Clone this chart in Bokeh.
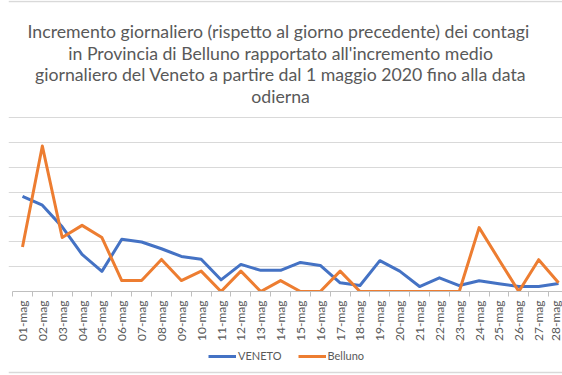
import math
from bokeh.plotting import figure
from bokeh.layouts import column
from bokeh.models import Range1d, FixedTicker, Legend, LegendItem, Span
from bokeh.core.properties import value
from bokeh.embed import file_html
from bokeh.resources import INLINE

days = ["01-mag", "02-mag", "03-mag", "04-mag", "05-mag", "06-mag", "07-mag",
        "08-mag", "09-mag", "10-mag", "11-mag", "12-mag", "13-mag", "14-mag",
        "15-mag", "16-mag", "17-mag", "18-mag", "19-mag", "20-mag", "21-mag",
        "22-mag", "23-mag", "24-mag", "25-mag", "26-mag", "27-mag", "28-mag"]

veneto = [3.83, 3.47, 2.60, 1.49, 0.81, 2.10, 1.99, 1.72, 1.41, 1.30,
          0.47, 1.09, 0.85, 0.85, 1.17, 1.05, 0.35, 0.24, 1.24, 0.82,
          0.20, 0.55, 0.24, 0.43, 0.31, 0.20, 0.20, 0.32]

belluno = [1.79, 5.85, 2.17, 2.66, 2.17, 0.44, 0.44, 1.29, 0.44, 0.82,
           0.00, 0.82, 0.00, 0.44, 0.00, 0.00, 0.82, 0.00, 0.00, 0.00,
           0.00, 0.00, 0.00, 2.57, 1.28, 0.00, 1.28, 0.35]

series_names = ["VENETO", "Belluno"]
series_colors = ["#4472C4", "#ED7D31"]

grid_levels = [0, 1, 2, 3, 4, 5, 6, 7]

title_lines = [
    "Incremento giornaliero  (rispetto al giorno precedente) dei contagi",
    "in Provincia di Belluno rapportato all'incremento medio",
    "giornaliero del Veneto a partire dal 1 maggio 2020 fino alla data",
    "odierna",
]

FONT = "Lato"
GREY = "#595959"
BORDER = "#d9d9d9"
UNIT = 24.86          # px per grid step
BASE = 291            # px of the x axis from the top
H1 = 345              # height of the chart part
H2 = 375 - H1         # height of the legend strip

x = list(range(len(days)))

p = figure(width=562, height=H1, output_backend="svg", toolbar_location=None,
           x_range=Range1d(-0.705, 27.2), y_range=Range1d(0, BASE / UNIT),
           min_border_left=8, min_border_right=0, min_border_top=0,
           min_border_bottom=H1 - BASE, y_axis_location=None)
p.outline_line_color = None
p.xgrid.visible = False
p.ygrid.ticker = FixedTicker(ticks=grid_levels)
p.ygrid.grid_line_color = BORDER
p.ygrid.grid_line_width = 1

ax = p.xaxis[0]
ax.ticker = FixedTicker(ticks=x, minor_ticks=[i - 0.5 for i in range(len(days) + 1)])
ax.major_label_overrides = {i: d for i, d in enumerate(days)}
ax.major_label_orientation = math.pi / 2
ax.major_tick_line_color = None
ax.major_tick_out = 5
ax.major_tick_in = 0
ax.minor_tick_line_color = "#bfbfbf"
ax.minor_tick_out = 5
ax.minor_tick_in = 0
ax.axis_line_color = "#bfbfbf"
ax.bounds = (-0.5, 27.5)
ax.major_label_standoff = 4
ax.major_label_text_font = FONT
ax.major_label_text_font_size = "12px"
ax.major_label_text_color = GREY

p.line(x, veneto, line_color=series_colors[0], line_width=3, line_join="round")
p.line(x, belluno, line_color=series_colors[1], line_width=3, line_join="round")

# chart-area border at the top
p.add_layout(Span(location=(BASE - 1) / UNIT, dimension="width",
                  line_color=BORDER, line_width=1.5))

# title, baselines given in px from the top of the picture
title_base_px = [31, 52.7, 74, 96]
p.text(x=[13.0] * 4, y=[(BASE - b) / UNIT for b in title_base_px], text=title_lines,
       text_align="center", text_baseline="alphabetic",
       text_font=value(FONT), text_font_size=value("17.7px"), text_color=GREY)

# legend strip (its lines lie outside the visible range; only the legend shows)
q = figure(width=562, height=H2, output_backend="svg", toolbar_location=None,
           x_range=Range1d(1000, 1001), y_range=Range1d(0, 1),
           min_border_left=0, min_border_right=0, min_border_top=0,
           min_border_bottom=0, x_axis_location=None, y_axis_location=None)
q.outline_line_color = None
q.grid.visible = False
items = []
for name, col, vals in zip(series_names, series_colors, [veneto, belluno]):
    r = q.line(x=x, y=vals, line_color=col, line_width=3)
    items.append(LegendItem(label=name, renderers=[r]))
legend = Legend(items=items, orientation="horizontal", location=(200, 13),
                glyph_width=28, glyph_height=12, label_standoff=2, spacing=16,
                padding=0, margin=0, border_line_color=None,
                background_fill_alpha=0, label_text_font=FONT,
                label_text_font_size="11px", label_text_color=GREY,
                label_height=12)
q.add_layout(legend)
q.add_layout(Span(location=0.1, dimension="width", line_color=BORDER, line_width=1.5))

open("out.html", "w").write(file_html(column(p, q, spacing=0), INLINE))
